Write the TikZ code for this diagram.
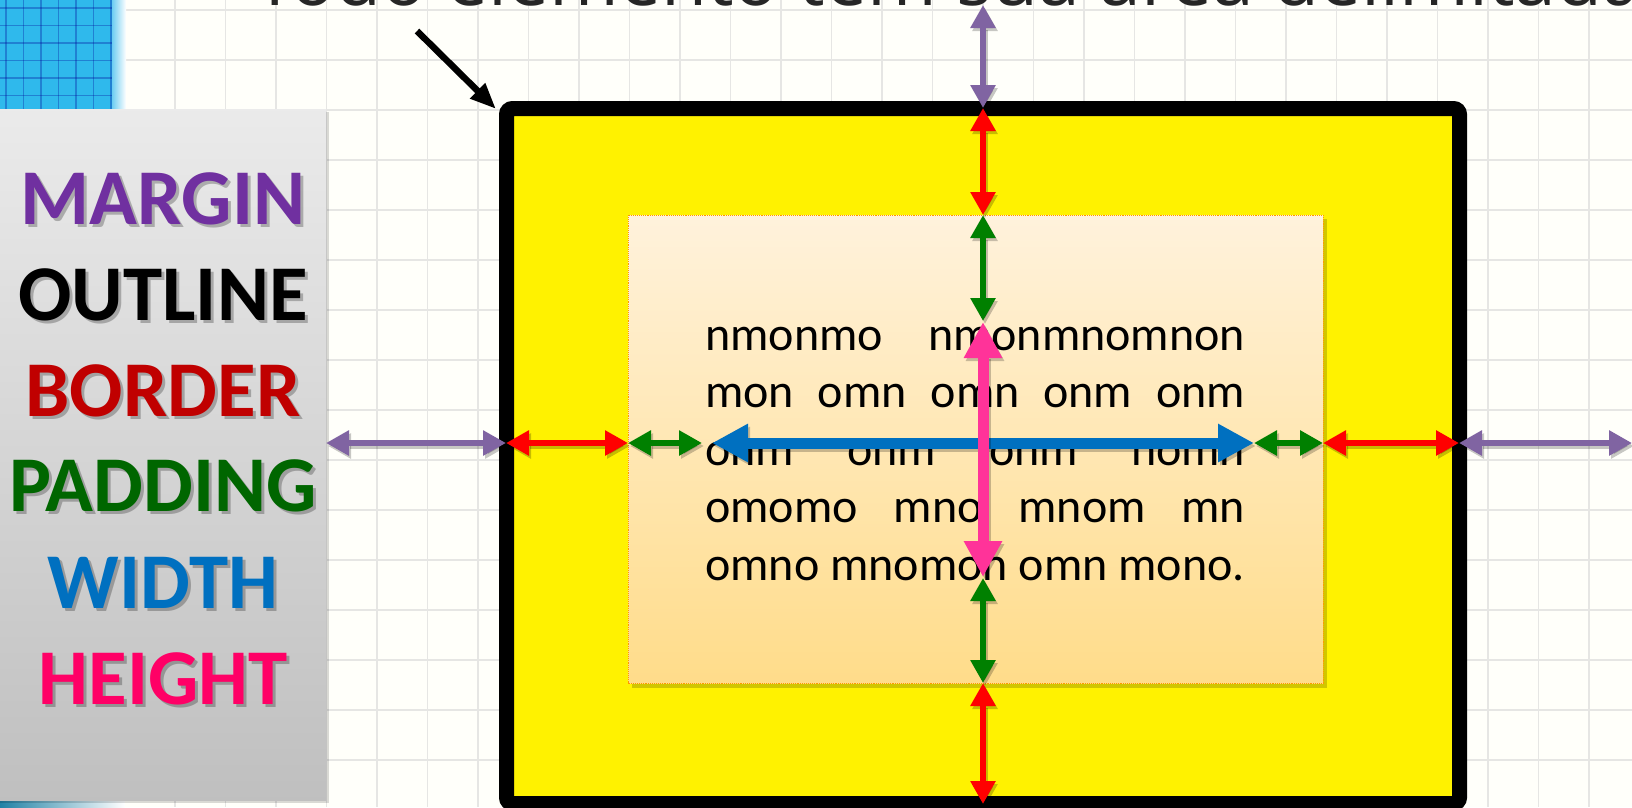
\documentclass[tikz,border=0pt]{standalone}
\usepackage{fontspec}
\setmainfont{Carlito}
\newfontfamily\titlefont{Open Sans}
\usetikzlibrary{arrows.meta}
\definecolor{cmargin}{HTML}{7030A0}
\definecolor{cborder}{HTML}{C00000}
\definecolor{cpad}{HTML}{006600}
\definecolor{cwidth}{HTML}{0070C0}
\definecolor{cheight}{HTML}{FF0066}
\definecolor{amargin}{HTML}{8064A2}
\definecolor{aborder}{HTML}{FF0000}
\definecolor{apad}{HTML}{008000}
\definecolor{aheight}{HTML}{FF3399}
\definecolor{tileblue}{HTML}{2FB9EC}
\definecolor{innertop}{HTML}{FFF2DC}
\definecolor{innerbot}{HTML}{FFDC8A}
\definecolor{gridc}{HTML}{E6E6E4}
\tikzset{
  thinarr/.style={line width=6pt,{Triangle[length=23pt,width=24pt]}-{Triangle[length=23pt,width=24pt]}},
  thickarr/.style={line width=11pt,{Triangle[length=36pt,width=36pt]}-{Triangle[length=36pt,width=36pt]}},
  lbl/.style={anchor=base,inner sep=0pt,font=\bfseries\fontsize{79}{79}\selectfont},
  bodytxt/.style={anchor=base west,inner sep=0pt,font=\fontsize{48}{48}\selectfont},
}
\newcommand\darr[4]{%
  \draw[#1,draw=black,opacity=0.22] ([shift={(2pt,-3pt)}]#3) -- ([shift={(2pt,-3pt)}]#4);
  \draw[#1,draw=#2] (#3) -- (#4);}
\newcommand\lblshadow[4]{%
  \node[lbl,text=black,opacity=0.25] at (#1+3,#2+3) {#4};
  \node[lbl,text=#3] (#4) at (#1,#2) {#4};}
\begin{document}
\begin{tikzpicture}[x=1pt,y=-1pt]
\useasboundingbox (0,0) rectangle (1632,807);
\clip (0,0) rectangle (1632,807);
% background and grid
\fill[white!98!yellow] (0,0) rectangle (1632,807);
\foreach \i in {0,...,32} {\draw[gridc,line width=1.3pt] ({23.5+50.5*\i},0) -- ({23.5+50.5*\i},807);}
\foreach \j in {0,...,16} {\draw[gridc,line width=1.3pt] (0,{10+50*\j}) -- (1632,{10+50*\j});}
% blue tiles in the corner
\fill[tileblue] (0,0) rectangle (112,112);
\shade[left color=tileblue!70!white,right color=white] (112,0) rectangle (126,112);
\foreach \i in {0,...,6} {\draw[blue!60!black,opacity=0.3,line width=1.5pt] ({6+17.5*\i},0) -- ({6+17.5*\i},112);}
\foreach \j in {0,...,6} {\draw[blue!60!black,opacity=0.3,line width=1.5pt] (0,{8+17.5*\j}) -- (112,{8+17.5*\j});}
\shade[left color=tileblue!70!black,right color=white] (0,798) rectangle (125,807);
% left panel
\fill[black,opacity=0.15] (0,112) rectangle (329,803);
\shade[top color=black!8,bottom color=black!25] (0,109) rectangle (326,800);
\lblshadow{163}{224}{cmargin}{MARGIN}
\lblshadow{163}{320}{black}{OUTLINE}
\lblshadow{163}{416}{cborder}{BORDER}
\lblshadow{163}{511}{cpad}{PADDING}
\lblshadow{163}{608}{cwidth}{WIDTH}
\lblshadow{163}{704}{cheight}{HEIGHT}
% title (cut off at the top)
\node[anchor=base west,inner sep=0pt,text=black!85,font=\titlefont\fontsize{75}{75}\selectfont] (title) at (254,5) {Todo elemento tem sua área delimitada};
% outline box
\draw[line width=15pt,fill=yellow,rounded corners=6pt] (506.5,108.5) rectangle (1459.5,803.5);
% content box
\fill[black,opacity=0.18] (632,219) rectangle (1327,688);
\shade[top color=innertop,bottom color=innerbot] (628,215) rectangle (1323,683);
\draw[orange!80!yellow,line width=0.9pt,densely dotted] (628,215) rectangle (1323,683);
\node[bodytxt] (l1) at (705,350) {\makebox[540pt][s]{nmonmo nmonmnomnon}};
\node[bodytxt] (l2) at (705,407) {\makebox[540pt][s]{mon omn omn onm onm}};
\node[bodytxt] (l3) at (705,465) {\makebox[540pt][s]{onm onm onm nomn}};
\node[bodytxt] (l4) at (705,522) {\makebox[540pt][s]{omomo mno mnom mn}};
\node[bodytxt] (l5) at (705,580) {omno mnomon omn mono.};
% pointer arrow
\coordinate (ptA) at (417,31);
\coordinate (ptB) at (496,109);
\draw[line width=6.5pt,-{Triangle[length=26pt,width=20pt]}] (ptA) -- (ptB);
% horizontal arrow stops
\coordinate (hP1) at (326,443);
\coordinate (hO1) at (506,443);
\coordinate (hB1) at (628,443);
\coordinate (hG1) at (702,443);
\coordinate (hW1) at (712,443);
\coordinate (hW2) at (1254,443);
\coordinate (hB2) at (1323,443);
\coordinate (hO2) at (1459,443);
\coordinate (hP2) at (1632,443);
% vertical arrow stops
\coordinate (vP1) at (983,5);
\coordinate (vO1) at (983,108);
\coordinate (vB1) at (983,215);
\coordinate (vG1) at (983,321);
\coordinate (vH1) at (983,322);
\coordinate (vH2) at (983,577);
\coordinate (vG2) at (983,578);
\coordinate (vB2) at (983,683);
\coordinate (vO2) at (983,804);
% margin
\darr{thinarr}{amargin}{hP1}{hO1}
\darr{thinarr}{amargin}{hO2}{hP2}
\darr{thinarr}{amargin}{vP1}{vO1}
% border
\darr{thinarr}{aborder}{hO1}{hB1}
\darr{thinarr}{aborder}{hB2}{hO2}
\darr{thinarr}{aborder}{vO1}{vB1}
\darr{thinarr}{aborder}{vB2}{vO2}
% padding
\darr{thinarr}{apad}{hB1}{hG1}
\darr{thinarr}{apad}{hW2}{hB2}
\darr{thinarr}{apad}{vB1}{vG1}
\darr{thinarr}{apad}{vG2}{vB2}
% width and height
\darr{thickarr}{cwidth}{hW1}{hW2}
\darr{thickarr}{aheight}{vH1}{vH2}
\end{tikzpicture}
\end{document}
